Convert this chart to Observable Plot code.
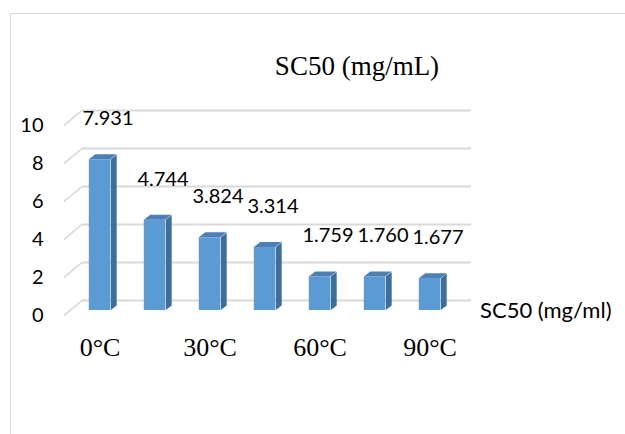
<!DOCTYPE html>
<html>
<head>
<meta charset="utf-8">
<script src="https://cdn.jsdelivr.net/npm/d3@7"></script>
<script src="https://cdn.jsdelivr.net/npm/@observablehq/plot@0.6"></script>
<style>
  html, body { margin: 0; padding: 0; background: #ffffff; width: 625px; height: 434px; overflow: hidden; }
  #frame { position: absolute; left: 10px; top: 13px; width: 700px; height: 500px;
           border-top: 1.5px solid #d9d9d9; border-left: 1.5px solid #d9d9d9; box-sizing: border-box; }
  #title { position: absolute; left: 0; width: 714px; top: 48px; text-align: center;
           font-family: "Liberation Serif", "Times New Roman", serif; font-size: 27px; color: #000; line-height: 36px; }
  #legend { position: absolute; left: 480px; top: 296px; font-family: Lato, sans-serif; font-size: 22px; color: #000; line-height: 28px; }
  #chart { position: absolute; left: 0; top: 0; }
</style>
</head>
<body>
<div id="frame"></div>
<div id="title"></div>
<div id="chart"></div>
<div id="legend"></div>
<script>
// ---- data ----
const categories = ["0°C", "15°C", "30°C", "45°C", "60°C", "75°C", "90°C"];
const values = [7.931, 4.744, 3.824, 3.314, 1.759, 1.760, 1.677];
const valueLabels = ["7.931", "4.744", "3.824", "3.314", "1.759", "1.760", "1.677"];
const xTickLabels = ["0°C", "30°C", "60°C", "90°C"];
const yTicks = [0, 2, 4, 6, 8, 10];
const seriesName = "SC50 (mg/ml)";
const chartTitle = "SC50 (mg/mL)";

const data = categories.map((c, i) => ({cat: c, value: values[i], label: valueLabels[i]}));

document.getElementById("title").textContent = chartTitle;
document.getElementById("legend").textContent = seriesName;

const sans = "Lato, 'Open Sans', sans-serif";
const serif = "'Liberation Serif', 'Times New Roman', serif";

const chart = Plot.plot({
  width: 625,
  height: 434,
  marginLeft: 70,
  marginRight: 166,
  marginTop: 120,
  marginBottom: 124,
  x: {type: "band", domain: categories, padding: 0, axis: null, label: null},
  y: {domain: [0, 10], axis: null, label: null},
  style: {background: "transparent", overflow: "visible", color: "#000"},
  marks: [
    // 0: back wall gridlines
    Plot.ruleY(yTicks, {stroke: "#d9d9d9", strokeWidth: 2, dx: 12, dy: -10}),
    // 1: side wall (floor-depth) gridlines, skewed afterwards
    Plot.ruleY(yTicks, {stroke: "#d9d9d9", strokeWidth: 2, dx: -6, dy: 5, insetRight: 371}),
    // 2: bar front faces
    Plot.barY(data, {x: "cat", y: "value", fill: "#5B9BD5", insetLeft: 16.8, insetRight: 16.8}),
    // 3: bar side faces (skewed afterwards)
    Plot.barY(data, {x: "cat", y: "value", fill: "#3F6E9B", insetLeft: 38.8, insetRight: 10.3}),
    // 4: bar top faces (skewed afterwards)
    Plot.barY(data, {x: "cat", y1: "value", y2: "value", fill: "#4A7FB8", insetLeft: 16.8, insetRight: 16.8, insetTop: -5}),
    // value labels
    Plot.text(data, {x: "cat", y: "value", text: "label", dx: 8, dy: -41, fontSize: 20, fontFamily: sans, fill: "#000"}),
    // axes
    Plot.axisY({ticks: yTicks, tickSize: 0, tickPadding: 27, dy: 5, fontSize: 20, fontFamily: sans, fill: "#000", label: null}),
    Plot.axisX({ticks: xTickLabels, tickSize: 0, tickPadding: 27, fontSize: 26, fontFamily: serif, fill: "#000", label: null})
  ]
});

document.getElementById("chart").appendChild(chart);

// 3D look: skew the side faces, top faces and the depth gridlines
const groups = chart.querySelectorAll(":scope > g");
const deg = r => r * 180 / Math.PI;
const sideAngle = deg(Math.atan(-5 / 6.5));   // right edge of side face rises 5px
const topAngle = deg(Math.atan(-6.5 / 5));    // top edge of top face shifts right 6.5px
const depthAngle = deg(Math.atan(-15 / 18));  // depth gridlines rise 15px over 18px

groups[1].querySelectorAll("line").forEach(l => {
  const x1 = +l.getAttribute("x1");
  l.setAttribute("transform", `translate(${x1} 0) skewY(${depthAngle}) translate(${-x1} 0)`);
});
groups[3].querySelectorAll("rect").forEach(r => {
  const x = +r.getAttribute("x");
  r.setAttribute("transform", `translate(${x} 0) skewY(${sideAngle}) translate(${-x} 0)`);
});
groups[4].querySelectorAll("rect").forEach(r => {
  const yb = +r.getAttribute("y") + +r.getAttribute("height");
  r.setAttribute("transform", `translate(0 ${yb}) skewX(${topAngle}) translate(0 ${-yb})`);
});
</script>
</body>
</html>
